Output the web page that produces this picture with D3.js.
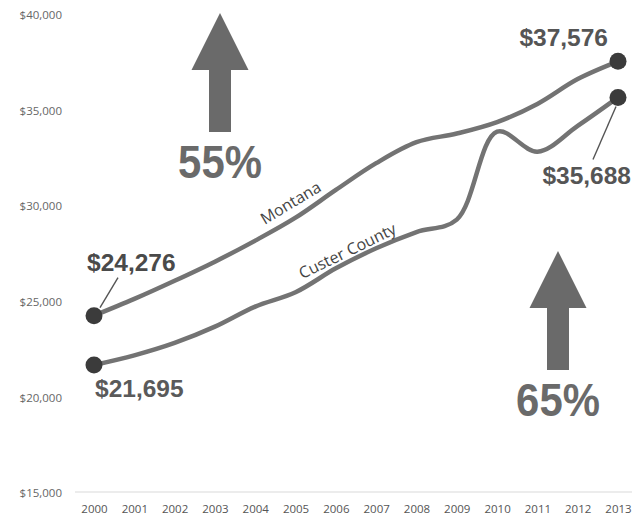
<!DOCTYPE html>
<html>
<head>
<meta charset="utf-8">
<script src="https://cdn.jsdelivr.net/npm/d3@7"></script>
<style>
  html, body { margin: 0; padding: 0; background: #fff; }
  svg { display: block; }
</style>
</head>
<body>
<svg id="chart" width="637" height="529"></svg>
<script>
// Per-capita income, 2000–2013
const years = [2000, 2001, 2002, 2003, 2004, 2005, 2006, 2007, 2008, 2009, 2010, 2011, 2012, 2013];
const montana = [24276, 25150, 26100, 27100, 28200, 29400, 30850, 32250, 33350, 33800, 34400, 35350, 36650, 37576];
const custer  = [21695, 22200, 22850, 23700, 24750, 25500, 26750, 27800, 28650, 29300, 33900, 32850, 34200, 35688];
const yTicks = [15000, 20000, 25000, 30000, 35000, 40000];
const seriesNames = ["Montana", "Custer County"];
const growthLabels = ["55%", "65%"];

const svg = d3.select("#chart");
const x = d3.scaleLinear().domain([2000, 2013]).range([94, 618]);
const y = d3.scaleLinear().domain([15000, 40000]).range([493, 15]);

const LINE = "#737373";
const DOT = "#3b3b3b";
const BIG = "#6a6a6a";
const boldFont = "'Liberation Sans', Arial, sans-serif";
const smallFont = "'Open Sans', 'DejaVu Sans', sans-serif";

// baseline rule
svg.append("line")
  .attr("x1", 75).attr("x2", 632)
  .attr("y1", y(15000) - 1).attr("y2", y(15000) - 1)
  .attr("stroke", "#ececec").attr("stroke-width", 2);

// y axis labels
const yAxis = d3.axisLeft(y).tickValues(yTicks).tickFormat(d3.format("$,")).tickSize(0).tickPadding(0);
svg.append("g")
  .attr("transform", "translate(62,0)")
  .call(yAxis)
  .call(g => g.select(".domain").remove())
  .call(g => g.selectAll("text")
    .attr("fill", "#666")
    .attr("font-size", 11.5)
    .attr("font-family", smallFont));

// x axis labels
const xAxis = d3.axisBottom(x).tickValues(years).tickFormat(d3.format("d")).tickSize(0).tickPadding(0);
svg.append("g")
  .attr("transform", "translate(0,505)")
  .call(xAxis)
  .call(g => g.select(".domain").remove())
  .call(g => g.selectAll("text")
    .attr("fill", "#555")
    .attr("font-size", 11.5)
    .attr("font-family", smallFont));

// income lines
const line = d3.line()
  .x((d, i) => x(years[i]))
  .y(d => y(d))
  .curve(d3.curveCatmullRom.alpha(0.5));

[montana, custer].forEach(series => {
  svg.append("path")
    .datum(series)
    .attr("d", line)
    .attr("fill", "none")
    .attr("stroke", LINE)
    .attr("stroke-width", 4.5)
    .attr("stroke-linecap", "round");
});

// series names along the lines
svg.append("text")
  .attr("transform", `translate(${x(2005) - 2},${y(29400) - 10}) rotate(-31)`)
  .attr("text-anchor", "middle")
  .attr("font-family", smallFont)
  .attr("font-size", 16)
  .attr("fill", "#444")
  .text(seriesNames[0]);

svg.append("text")
  .attr("transform", `translate(${x(2006.35)},${y(26400) - 19}) rotate(-26)`)
  .attr("text-anchor", "middle")
  .attr("font-family", smallFont)
  .attr("font-size", 16)
  .attr("fill", "#444")
  .text(seriesNames[1]);

// end points
const ends = [
  { year: years[0], value: montana[0] },
  { year: years[0], value: custer[0] },
  { year: years[years.length - 1], value: montana[montana.length - 1] },
  { year: years[years.length - 1], value: custer[custer.length - 1] }
];

// leader lines
const m0 = ends[0], c1 = ends[3];
svg.append("line")
  .attr("x1", x(m0.year) + 6).attr("y1", y(m0.value) - 8)
  .attr("x2", x(m0.year) + 24).attr("y2", y(m0.value) - 38)
  .attr("stroke", "#555").attr("stroke-width", 1.4);
svg.append("line")
  .attr("x1", x(c1.year) - 2).attr("y1", y(c1.value) + 9)
  .attr("x2", x(c1.year) - 25).attr("y2", y(c1.value) + 62)
  .attr("stroke", "#555").attr("stroke-width", 1.4);

svg.selectAll("circle.end")
  .data(ends)
  .join("circle")
  .attr("class", "end")
  .attr("cx", d => x(d.year))
  .attr("cy", d => y(d.value))
  .attr("r", 8.5)
  .attr("fill", DOT);

// value labels
const fmt = d3.format("$,");
const valueLabels = [
  { d: ends[0], dx: -7, dy: -45, anchor: "start", fill: "#4a4a4a" },
  { d: ends[1], dx: 1, dy: 32, anchor: "start", fill: "#5a5a5a" },
  { d: ends[2], dx: -10, dy: -15, anchor: "end", fill: "#555" },
  { d: ends[3], dx: 13, dy: 87, anchor: "end", fill: "#555" }
];
svg.selectAll("text.val")
  .data(valueLabels)
  .join("text")
  .attr("class", "val")
  .attr("x", v => x(v.d.year) + v.dx)
  .attr("y", v => y(v.d.value) + v.dy)
  .attr("text-anchor", v => v.anchor)
  .attr("font-family", boldFont)
  .attr("font-weight", "bold")
  .attr("font-size", 24.5)
  .attr("fill", v => v.fill)
  .text(v => fmt(v.d.value));

// growth arrows
function arrow(cx, tipY) {
  const headW = 28.5, shaftW = 11, headH = 57, total = 119;
  return [
    [cx, tipY],
    [cx + headW, tipY + headH],
    [cx + shaftW, tipY + headH],
    [cx + shaftW, tipY + total],
    [cx - shaftW, tipY + total],
    [cx - shaftW, tipY + headH],
    [cx - headW, tipY + headH]
  ];
}
const arrows = [
  { cx: 220, tip: 13, textY: 178, label: growthLabels[0] },
  { cx: 558, tip: 251, textY: 416, label: growthLabels[1] }
];
arrows.forEach(a => {
  svg.append("polygon")
    .attr("points", arrow(a.cx, a.tip).map(p => p.join(",")).join(" "))
    .attr("fill", BIG);
  svg.append("text")
    .attr("transform", `translate(${a.cx},${a.textY}) scale(0.91,1)`)
    .attr("text-anchor", "middle")
    .attr("font-family", boldFont)
    .attr("font-weight", "bold")
    .attr("font-size", 46)
    .attr("fill", BIG)
    .text(a.label);
});
</script>
</body>
</html>
